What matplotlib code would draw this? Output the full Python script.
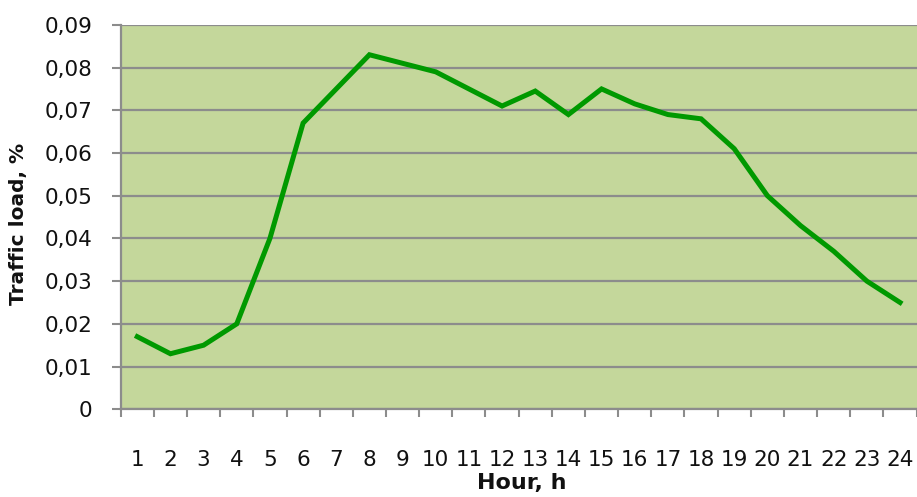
import matplotlib
matplotlib.use("Agg")
import matplotlib.pyplot as plt
import numpy as np

hours = list(range(1, 25))
hour_labels = [str(h) for h in hours]
traffic = [0.017, 0.013, 0.015, 0.020, 0.040, 0.067, 0.075, 0.083, 0.081, 0.079,
           0.075, 0.071, 0.0745, 0.069, 0.075, 0.0715, 0.069, 0.068, 0.061, 0.050,
           0.043, 0.037, 0.030, 0.025]
yticks = [0, 0.01, 0.02, 0.03, 0.04, 0.05, 0.06, 0.07, 0.08, 0.09]
ytick_labels = ["0", "0,01", "0,02", "0,03", "0,04", "0,05", "0,06", "0,07", "0,08", "0,09"]

plt.rcParams['font.family'] = ['DejaVu Sans']
fig = plt.figure(figsize=(9.17, 4.97), dpi=100)
ax = fig.add_axes([0.1316, 0.1765, 0.868, 0.7735])
ax.set_facecolor('#c4d79b')

x = np.arange(len(hours))
ax.plot(x, traffic, color='#009900', lw=3.6, solid_joinstyle='miter', zorder=3)

ax.set_xlim(-0.5, len(hours) - 0.5)
ax.set_ylim(0, 0.09)
ax.set_yticks(yticks)
ax.set_yticklabels(ytick_labels, fontsize=15.5, color='#111111')
ax.set_xticks(x)
ax.set_xticklabels(hour_labels, fontsize=15.5, color='#111111')
ax.set_xticks(np.arange(-0.5, len(hours), 1), minor=True)
ax.tick_params(axis='x', which='major', length=0, pad=29.5)
ax.tick_params(axis='x', which='minor', length=5.5, width=1.5, color='#8c8c8c', direction='out')
ax.tick_params(axis='y', length=6.5, width=1.5, color='#8c8c8c', pad=14)

ax.grid(axis='y', color='#8c8c8c', lw=1.6, zorder=1)
ax.set_axisbelow(True)
for s in ['top', 'right']:
    ax.spines[s].set_visible(False)
for s in ['left', 'bottom']:
    ax.spines[s].set_color('#8c8c8c')
    ax.spines[s].set_linewidth(1.6)

ax.set_ylabel('Traffic load, %', fontsize=14.5, fontweight='bold', va='center', color='#111111')
ax.yaxis.set_label_coords(-0.1278, 0.482)
ax.set_xlabel('Hour, h', fontsize=16, fontweight='bold', va='center', color='#111111')
ax.xaxis.set_label_coords(0.504, -0.193)

fig.savefig('out.png', dpi=100)
